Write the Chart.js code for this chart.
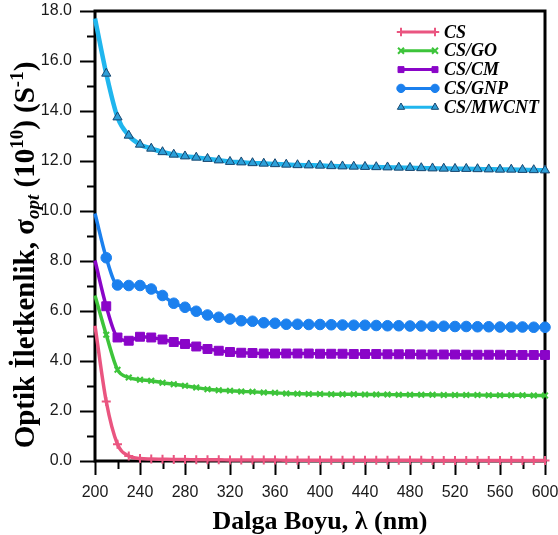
<!DOCTYPE html>
<html>
<head>
<meta charset="utf-8">
<script src="https://cdn.jsdelivr.net/npm/chart.js@4.4.1/dist/chart.umd.min.js"></script>
<style>
  html, body { margin: 0; padding: 0; background: #fff; }
  #wrap { width: 558px; height: 535px; }
</style>
</head>
<body>
<div id="wrap"><canvas id="chart"></canvas></div>
<script>
// wavelength (nm)
const wavelengths = [200, 210, 220, 230, 240, 250, 260, 270, 280, 290, 300, 310, 320, 330, 340, 350, 360, 370,
  380, 390, 400, 410, 420, 430, 440, 450, 460, 470, 480, 490, 500, 510, 520, 530, 540, 550, 560, 570, 580, 590, 600];

// optical conductivity (10^10 S^-1)
const csValues = [5.41, 2.38, 0.67, 0.2, 0.1, 0.08, 0.07, 0.06, 0.06, 0.05, 0.05, 0.05, 0.04, 0.04, 0.04, 0.04, 0.04, 0.03,
  0.03, 0.03, 0.03, 0.03, 0.03, 0.03, 0.03, 0.03, 0.03, 0.03, 0.03, 0.03, 0.02, 0.02, 0.02, 0.02, 0.02, 0.02, 0.02, 0.02, 0.02, 0.02, 0.02];
const goValues = [6.62, 5.05, 3.65, 3.34, 3.25, 3.21, 3.13, 3.07, 3.01, 2.94, 2.87, 2.83, 2.81, 2.78, 2.77, 2.74, 2.73, 2.7,
  2.69, 2.68, 2.68, 2.67, 2.67, 2.67, 2.66, 2.66, 2.66, 2.65, 2.65, 2.65, 2.65, 2.64, 2.64, 2.64, 2.64, 2.63, 2.63, 2.63, 2.63, 2.62, 2.62];
const cmValues = [8.02, 6.19, 4.94, 4.81, 4.97, 4.94, 4.86, 4.76, 4.68, 4.58, 4.48, 4.41, 4.36, 4.33, 4.32, 4.3, 4.3, 4.3,
  4.3, 4.3, 4.29, 4.29, 4.29, 4.28, 4.28, 4.28, 4.27, 4.27, 4.27, 4.26, 4.26, 4.26, 4.26, 4.25, 4.25, 4.25, 4.25, 4.24, 4.24, 4.24, 4.24];
const gnpValues = [9.9, 8.13, 7.04, 7.02, 7.02, 6.88, 6.62, 6.31, 6.15, 5.99, 5.84, 5.75, 5.68, 5.61, 5.59, 5.53, 5.51, 5.47,
  5.47, 5.46, 5.46, 5.45, 5.44, 5.43, 5.43, 5.42, 5.41, 5.41, 5.4, 5.4, 5.39, 5.39, 5.38, 5.38, 5.37, 5.37, 5.36, 5.36, 5.36, 5.35, 5.35];
const mwcntValues = [17.7, 15.5, 13.75, 13.02, 12.66, 12.5, 12.36, 12.26, 12.19, 12.14, 12.09, 12.03, 11.97, 11.95, 11.92, 11.9, 11.88, 11.86,
  11.84, 11.83, 11.82, 11.8, 11.79, 11.78, 11.77, 11.76, 11.75, 11.74, 11.73, 11.72, 11.71, 11.7, 11.69, 11.69, 11.68, 11.67, 11.66, 11.66, 11.65, 11.64, 11.63];

const seriesNames = ['CS', 'CS/GO', 'CS/CM', 'CS/GNP', 'CS/MWCNT'];

const SERIF = '"Liberation Serif", "Times New Roman", serif';
const SANS = '"Liberation Sans", Arial, sans-serif';

function toPoints(values) {
  return wavelengths.map((w, i) => ({ x: w, y: values[i] }));
}

function makeSet(label, values, color, style, radius, extra) {
  return Object.assign({
    label: label,
    data: toPoints(values),
    borderColor: color,
    backgroundColor: color,
    pointBackgroundColor: color,
    pointBorderColor: color,
    borderWidth: 3.5,
    pointStyle: style,
    pointRadius: ctx => ctx.dataIndex === 0 ? 0 : radius,
    pointBorderWidth: 1,
    cubicInterpolationMode: 'monotone',
    clip: 8
  }, extra || {});
}

const datasets = [
  makeSet(seriesNames[0], csValues, '#ea5580', 'cross', 4.5, { pointBorderWidth: 2 }),
  makeSet(seriesNames[1], goValues, '#3dc43a', 'crossRot', 4, { pointBorderWidth: 2 }),
  makeSet(seriesNames[2], cmValues, '#8a05c8', 'rect', 6.3),
  makeSet(seriesNames[3], gnpValues, '#1b80ee', 'circle', 5.3),
  makeSet(seriesNames[4], mwcntValues, '#20b6ee', 'triangle', 5.3,
    { borderWidth: 4.5, pointBackgroundColor: '#2d9fd8', pointBorderColor: '#17466f', pointBorderWidth: 1 })
];

// frame and tick marks (major + minor, outside)
const framePlugin = {
  id: 'frame',
  beforeDatasetsDraw(chart) {
    const { ctx, chartArea: a, scales } = chart;
    ctx.save();
    ctx.strokeStyle = '#000';
    ctx.lineWidth = 2;
    scales.y.ticks.forEach(t => {
      const py = Math.round(scales.y.getPixelForValue(t.value)) + 0.5;
      const len = t.value % 2 === 0 ? 15 : 8;
      ctx.beginPath();
      ctx.moveTo(a.left - len, py);
      ctx.lineTo(a.left, py);
      ctx.stroke();
    });
    scales.x.ticks.forEach(t => {
      const px = Math.round(scales.x.getPixelForValue(t.value)) + 0.5;
      const len = t.value % 40 === 0 ? 14 : 8;
      ctx.beginPath();
      ctx.moveTo(px, a.bottom);
      ctx.lineTo(px, a.bottom + len);
      ctx.stroke();
    });
    ctx.lineWidth = 3;
    ctx.strokeRect(a.left, a.top, a.right - a.left, a.bottom - a.top);
    ctx.restore();
  }
};

function drawRich(ctx, parts, cx, cy) {
  let total = 0;
  parts.forEach(p => { ctx.font = p.font; p.w = ctx.measureText(p.text).width; total += p.w; });
  let x = cx - total / 2;
  ctx.textAlign = 'left';
  ctx.textBaseline = 'alphabetic';
  parts.forEach(p => {
    ctx.font = p.font;
    ctx.fillText(p.text, x, cy + (p.dy || 0));
    x += p.w;
  });
}

const titlesPlugin = {
  id: 'titles',
  afterDraw(chart) {
    const { ctx, chartArea: a } = chart;
    ctx.save();
    ctx.fillStyle = '#000';
    // x axis title
    drawRich(ctx, [{ text: 'Dalga Boyu, λ (nm)', font: 'bold 26px ' + SERIF }], (a.left + a.right) / 2, 529);

    // y axis title, rotated
    const base = 'bold 29px ' + SERIF;
    const small = 'bold 19px ' + SERIF;
    ctx.translate(34, 255);
    ctx.rotate(-Math.PI / 2);
    drawRich(ctx, [
      { text: 'Optik İletkenlik, σ', font: base },
      { text: 'opt', font: 'bold italic 19px ' + SERIF, dy: 5 },
      { text: ' (10', font: base },
      { text: '10', font: small, dy: -11 },
      { text: ') (S', font: base },
      { text: '-1', font: small, dy: -11 },
      { text: ')', font: base }
    ], 0, 0);
    ctx.restore();

    // legend
    ctx.save();
    chart.data.datasets.forEach((ds, i) => {
      const y = 32 + 18.8 * i;
      const x1 = 401, x2 = 435;
      ctx.strokeStyle = ds.borderColor;
      ctx.lineWidth = 3;
      ctx.beginPath();
      ctx.moveTo(x1, y);
      ctx.lineTo(x2, y);
      ctx.stroke();
      [x1, x2].forEach(x => {
        ctx.fillStyle = ds.pointBackgroundColor;
        ctx.strokeStyle = ds.pointBorderColor;
        ctx.lineWidth = ds.pointBorderWidth;
        Chart.helpers.drawPoint(ctx, { pointStyle: ds.pointStyle, radius: 4.2, rotation: 0, borderWidth: ds.pointBorderWidth }, x, y);
      });
      ctx.fillStyle = '#000';
      ctx.font = 'bold italic 18px ' + SERIF;
      ctx.textAlign = 'left';
      ctx.textBaseline = 'middle';
      ctx.fillText(ds.label, 444, y + 1);
    });
    ctx.restore();
  }
};

new Chart(document.getElementById('chart'), {
  type: 'line',
  data: { datasets: datasets },
  options: {
    responsive: true,
    maintainAspectRatio: false,
    animation: false,
    devicePixelRatio: 1,
    layout: { padding: { left: 0, right: 13, top: 11, bottom: 0 } },
    plugins: { legend: { display: false }, tooltip: { enabled: false } },
    scales: {
      x: {
        type: 'linear',
        min: 200,
        max: 600,
        grid: { display: true, drawOnChartArea: false, drawTicks: false },
        border: { display: false },
        ticks: {
          stepSize: 20,
          autoSkip: false,
          maxRotation: 0,
          padding: 22,
          color: '#1a1a1a',
          font: { family: SANS, size: 16 },
          callback: v => v % 40 === 0 ? String(v) : ''
        },
        afterFit: s => { s.height = 74; s.paddingLeft = 0; s.paddingRight = 0; }
      },
      y: {
        min: 0,
        max: 18,
        grid: { display: true, drawOnChartArea: false, drawTicks: false },
        border: { display: false },
        ticks: {
          stepSize: 1,
          autoSkip: false,
          padding: 23,
          color: '#1a1a1a',
          font: { family: SANS, size: 16 },
          callback: v => v % 2 === 0 ? v.toFixed(1) : ''
        },
        afterFit: s => { s.width = 95; s.paddingTop = 0; s.paddingBottom = 0; }
      }
    }
  },
  plugins: [framePlugin, titlesPlugin]
});
</script>
</body>
</html>
